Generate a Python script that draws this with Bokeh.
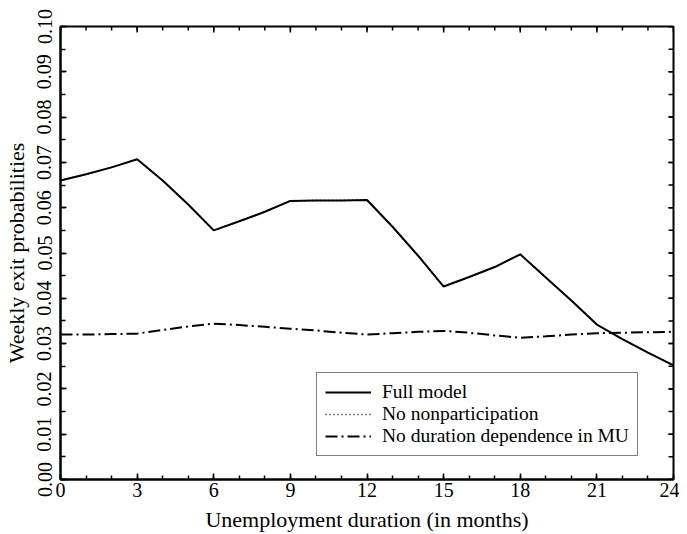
import math
from bokeh.plotting import figure
from bokeh.models import FixedTicker, Legend, LegendItem, PrintfTickFormatter
from bokeh.embed import file_html
from bokeh.resources import INLINE

months = list(range(25))
full_model = [0.0660, 0.0674, 0.0689, 0.0707, 0.0660, 0.0607, 0.0550, 0.0570,
              0.0591, 0.0615, 0.0616, 0.0616, 0.0617, 0.0558, 0.0494, 0.0426,
              0.0447, 0.0469, 0.0497, 0.0446, 0.0395, 0.0342, 0.0310, 0.0280,
              0.0252]
no_nonparticipation = [0.0660, 0.0674, 0.0689, 0.0707, 0.0660, 0.0607, 0.0550, 0.0570,
                       0.0591, 0.0615, 0.0616, 0.0616, 0.0617, 0.0558, 0.0494, 0.0426,
                       0.0447, 0.0469, 0.0497, 0.0446, 0.0395, 0.0342, 0.0310, 0.0280,
                       0.0252]
no_duration_dep = [0.0320, 0.0320, 0.0321, 0.0322, 0.0330, 0.0338, 0.0344, 0.0341,
                   0.0337, 0.0333, 0.0329, 0.0324, 0.0320, 0.0323, 0.0326, 0.0328,
                   0.0324, 0.0318, 0.0313, 0.0316, 0.0320, 0.0323, 0.0324, 0.0325,
                   0.0326]
x_major = [0, 3, 6, 9, 12, 15, 18, 21, 24]
x_minor = list(range(25))
y_major = [0.00, 0.01, 0.02, 0.03, 0.04, 0.05, 0.06, 0.07, 0.08, 0.09, 0.10]
y_minor = [i * 0.005 for i in range(21)]

FONT = "Liberation Serif"

p = figure(width=679, height=534, output_backend="svg", toolbar_location=None,
           x_range=(x_major[0], x_major[-1]), y_range=(y_major[0], y_major[-1]),
           min_border_left=59, min_border_right=6, min_border_top=26,
           min_border_bottom=55, x_axis_label="Unemployment duration (in months)",
           y_axis_label="Weekly exit probabilities")
p.grid.visible = False
p.outline_line_color = "black"
p.outline_line_width = 2
p.background_fill_color = "white"
p.border_fill_color = "white"

r1 = p.line(months, full_model, line_color="black", line_width=2)
r2 = p.line(months, no_nonparticipation, line_color="black", line_width=1.5, line_dash="1 3")
r3 = p.line(months, no_duration_dep, line_color="black", line_width=2, line_dash="12 4 2 4")

# inner ticks on top and right edges (clipped to frame)
top_y = y_major[-1]
right_x = x_major[-1]
p.scatter(x_minor, [top_y] * len(x_minor), marker="dash", size=8, angle=math.pi / 2,
          line_color="black", line_width=1.5)
p.scatter(x_major, [top_y] * len(x_major), marker="dash", size=12, angle=math.pi / 2,
          line_color="black", line_width=1.5)
p.scatter([right_x] * len(y_minor), y_minor, marker="dash", size=10,
          line_color="black", line_width=1.5)
p.scatter([right_x] * len(y_major), y_major, marker="dash", size=10,
          line_color="black", line_width=1.5)


def style(ax, ticks, minor):
    ax.ticker = FixedTicker(ticks=ticks, minor_ticks=minor)
    ax.axis_line_color = "black"
    ax.axis_line_width = 2
    ax.major_tick_in = 6
    ax.major_tick_out = 0
    ax.minor_tick_in = 4
    ax.minor_tick_out = 0
    ax.major_tick_line_color = "black"
    ax.minor_tick_line_color = "black"
    ax.major_tick_line_width = 1.5
    ax.minor_tick_line_width = 1.5
    ax.major_label_text_font = FONT
    ax.major_label_text_color = "black"
    ax.major_label_text_font_size = "20px"
    ax.axis_label_text_font = FONT
    ax.axis_label_text_font_style = "normal"
    ax.axis_label_text_color = "black"
    ax.axis_label_text_font_size = "22px"


xa = p.xaxis[0]
style(xa, x_major, x_minor)
xa.major_label_standoff = 3
xa.axis_label_standoff = 7

ya = p.yaxis[0]
style(ya, y_major, y_minor)
ya.minor_tick_in = 5
ya.formatter = PrintfTickFormatter(format="%.2f")
ya.major_label_orientation = "vertical"
ya.major_label_standoff = 9
ya.axis_label_standoff = 6

legend = Legend(items=[
    LegendItem(label="Full model", renderers=[r1]),
    LegendItem(label="No nonparticipation", renderers=[r2]),
    LegendItem(label="No duration dependence in MU", renderers=[r3]),
], location=(256, 23))
legend.label_text_font = FONT
legend.label_text_font_size = "19.5px"
legend.label_text_color = "black"
legend.border_line_color = "black"
legend.border_line_width = 1
legend.background_fill_alpha = 1
legend.padding = 8
legend.spacing = 0
legend.label_height = 20
legend.glyph_height = 20
legend.glyph_width = 46
legend.label_standoff = 11
legend.margin = 0
p.add_layout(legend, "center")

open("out.html", "w").write(file_html(p, INLINE))
